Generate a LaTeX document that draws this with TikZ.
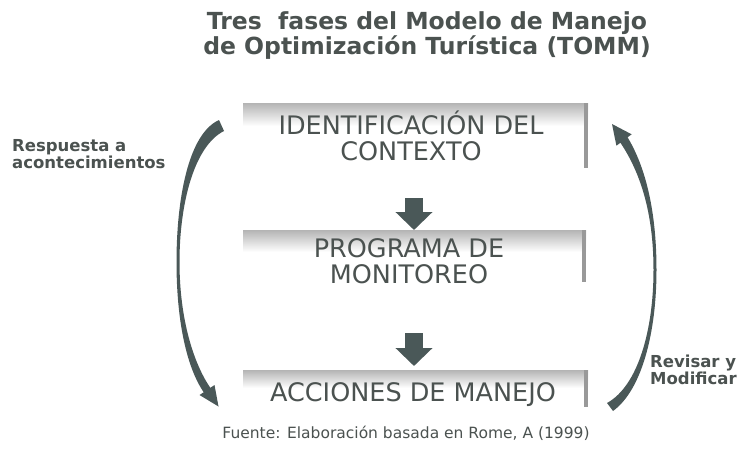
\documentclass[tikz,border=0pt]{standalone}
\usepackage{fontspec}
\setmainfont{DejaVu Sans}
\usetikzlibrary{arrows.meta}
\definecolor{ink}{HTML}{4B5250}
\definecolor{arrowc}{HTML}{4A5858}
\definecolor{bandc}{HTML}{B4B4B4}
\begin{document}
\begin{tikzpicture}[x=1pt,y=-1pt,
 title/.style={font=\bfseries\fontsize{23.5}{25}\selectfont, text=ink, align=center, inner sep=0},
 boxtext/.style={font=\fontsize{25.5}{25.5}\selectfont, text=ink, align=center, inner sep=0},
 side/.style={font=\bfseries\fontsize{16.5}{17}\selectfont, text=ink, align=left, inner sep=0},
 foot/.style={font=\fontsize{15.5}{16}\selectfont, text=ink, inner sep=0},
 band/.style={top color=bandc, bottom color=white, draw=none},
 stripe/.style={fill=bandc!85!black, draw=none},
 blockarrow/.style={draw=arrowc, line width=18pt, -{Triangle[width=36pt,length=18pt]}},
 curved/.style={fill=arrowc, draw=none}]
\useasboundingbox[fill=white] (0,0) rectangle (739,450);

% title
\node[title] (title) at (427,35.5) {Tres\ \ fases del Modelo de Manejo\\de Optimización Turística (TOMM)};

% boxes (graphics)
\shade[band] (243,103) rectangle (588,126);
\fill[stripe] (584,103) rectangle (588,168);
\shade[band] (243,230) rectangle (586,252);
\fill[stripe] (582,230) rectangle (586,282);
\shade[band] (243,370) rectangle (588,388);
\fill[stripe] (584,370) rectangle (588,407);

% box texts
\node[boxtext] (t1) at (411,136) {IDENTIFICACIÓN DEL\\CONTEXTO};
\node[boxtext] (t2) at (409,261) {PROGRAMA DE\\MONITOREO};
\node[boxtext] (t3) at (413,395) {ACCIONES DE MANEJO};

% down arrows
\coordinate (a1s) at (414,198);
\coordinate (a1e) at (414,230);
\coordinate (a2s) at (414,333);
\coordinate (a2e) at (414,366);
\draw[blockarrow] (a1s) -- (a1e);
\draw[blockarrow] (a2s) -- (a2e);

% left curved arrow (downwards)
\fill[curved] (219,120) .. controls (188,134) and (176.5,200) .. (176.5,262)
  .. controls (176.5,322) and (187,368) .. (203.7,392.2)
  -- (199.5,395) -- (218.5,406.5) -- (214.5,385) -- (210.3,387.8)
  .. controls (194,364) and (179.5,320) .. (179.5,262)
  .. controls (179.5,204) and (194,146) .. (224,131) -- cycle;

% right curved arrow (upwards)
\fill[curved] (613,411) .. controls (642,390) and (656.5,332) .. (656.5,270)
  .. controls (656.5,212) and (646,168) .. (627.6,137.3)
  -- (631.6,134.3) -- (612,124) -- (616.4,145.7) -- (620.4,142.7)
  .. controls (640,172) and (653.5,212) .. (653.5,270)
  .. controls (653.5,330) and (638,386) .. (607,403) -- cycle;

% side labels
\node[side, anchor=north west] (resp) at (12,139) {Respuesta a\\acontecimientos};
\node[side, anchor=north west] (rev) at (650,355) {Revisar y\\Modificar};

% footer
\node[foot] (foot) at (406,433) {Fuente: Elaboración basada en Rome, A (1999)};
\end{tikzpicture}
\end{document}
